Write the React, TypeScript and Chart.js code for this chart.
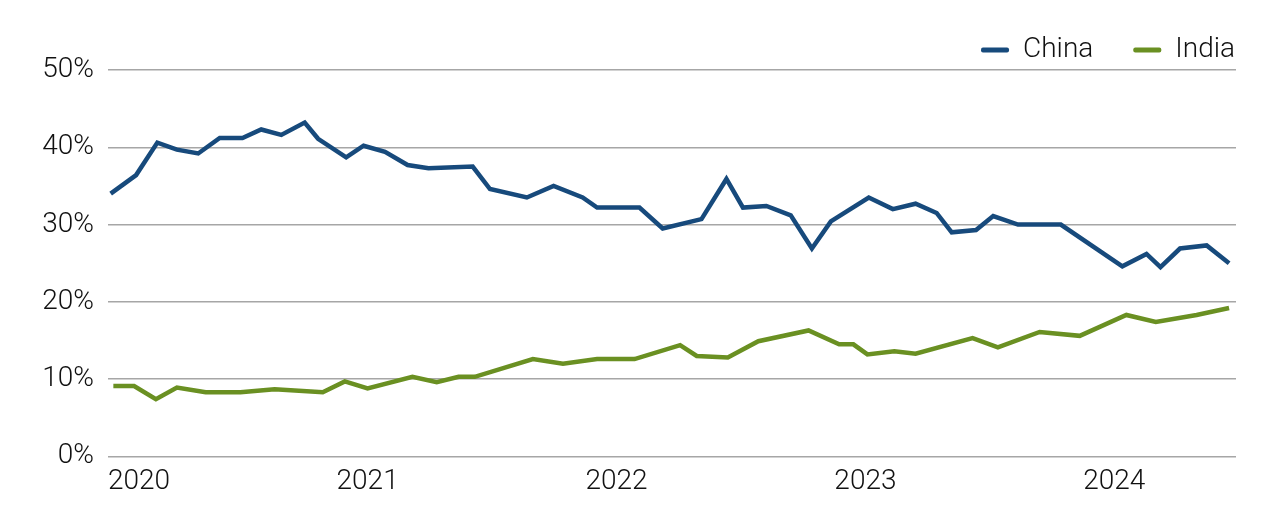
import React, { useEffect, useRef } from "react";
import { Chart, registerables } from "chart.js";

Chart.register(...registerables);

const FONT = "Roboto, 'DejaVu Sans Condensed', sans-serif";
const FONT_SIZE = 28;
const FONT_WEIGHT = 300;

const chinaDates = [
  "2019-12-20", "2020-01-27", "2020-02-26", "2020-03-26", "2020-04-26", "2020-05-28",
  "2020-06-30", "2020-07-28", "2020-08-27", "2020-09-30", "2020-10-20", "2020-11-30",
  "2020-12-26", "2021-01-27", "2021-02-27", "2021-03-30", "2021-06-03", "2021-06-28",
  "2021-08-22", "2021-09-30", "2021-11-12", "2021-12-03", "2022-02-04", "2022-03-08",
  "2022-05-04", "2022-06-10", "2022-07-04", "2022-08-08", "2022-09-13", "2022-10-14",
  "2022-11-11", "2023-01-06", "2023-02-10", "2023-03-14", "2023-04-14", "2023-05-06",
  "2023-06-11", "2023-07-06", "2023-08-12", "2023-10-14", "2024-01-13", "2024-02-17",
  "2024-03-08", "2024-04-06", "2024-05-15", "2024-06-17",
];
const chinaValues = [
  34.0, 36.4, 40.6, 39.7, 39.2, 41.2,
  41.2, 42.3, 41.6, 43.2, 41.1, 38.7,
  40.2, 39.4, 37.7, 37.3, 37.5, 34.6,
  33.5, 35.0, 33.5, 32.2, 32.2, 29.5,
  30.7, 35.9, 32.2, 32.4, 31.2, 26.9,
  30.4, 33.5, 32.0, 32.7, 31.5, 29.0,
  29.3, 31.1, 30.0, 30.0, 24.6, 26.2,
  24.5, 26.9, 27.3, 25.0,
];

const indiaDates = [
  "2019-12-24", "2020-01-24", "2020-02-24", "2020-03-26", "2020-05-07", "2020-06-27",
  "2020-08-17", "2020-10-27", "2020-11-28", "2021-01-01", "2021-03-06", "2021-04-11",
  "2021-05-13", "2021-06-06", "2021-08-31", "2021-10-14", "2021-12-03", "2022-01-28",
  "2022-04-03", "2022-04-27", "2022-06-12", "2022-07-27", "2022-10-09", "2022-11-23",
  "2022-12-14", "2023-01-04", "2023-02-12", "2023-03-14", "2023-06-06", "2023-07-13",
  "2023-09-13", "2023-11-11", "2024-01-19", "2024-03-01", "2024-04-30", "2024-06-17",
];
const indiaValues = [
  9.1, 9.1, 7.4, 8.9, 8.3, 8.3,
  8.7, 8.3, 9.7, 8.8, 10.3, 9.6,
  10.3, 10.3, 12.6, 12.0, 12.6, 12.6,
  14.4, 13.0, 12.8, 14.9, 16.3, 14.5,
  14.5, 13.2, 13.6, 13.3, 15.3, 14.1,
  16.1, 15.6, 18.3, 17.4, 18.3, 19.2,
];

const yearLabels = ["2020", "2021", "2022", "2023", "2024"];
const yTicks = [0, 10, 20, 30, 40, 50];

const X_START = "2019-12-16";
const X_END = "2024-06-27";

function toMonths(d: string): number {
  const [y, m, day] = d.split("-").map(Number);
  const dim = new Date(y, m, 0).getDate();
  return (y - 2020) * 12 + (m - 1) + (day - 1) / dim;
}

const CHINA_COLOR = "#174A7C";
const INDIA_COLOR = "#6A9022";

export default function App() {
  const ref = useRef<HTMLCanvasElement | null>(null);

  useEffect(() => {
    if (!ref.current) return;
    const xMin = toMonths(X_START);
    const xMax = toMonths(X_END);
    const tickValues = [xMin, ...yearLabels.slice(1).map((y) => toMonths(`${y}-01-01`)), xMax];
    const tickTexts = [...yearLabels, ""];
    const legendPadding = 40;
    const font = { family: FONT, size: FONT_SIZE, weight: FONT_WEIGHT as any };

    const shiftLegend = {
      id: "shiftLegend",
      afterLayout(chart: any) {
        const lg = chart.legend;
        if (!lg) return;
        const dx = legendPadding - 1;
        lg.left += dx;
        lg.right += dx;
        lg.top -= 12;
      },
    };

    const chart = new Chart(ref.current, {
      type: "line",
      data: {
        datasets: [
          {
            label: "China",
            data: chinaDates.map((d, i) => ({ x: toMonths(d), y: chinaValues[i] })),
            borderColor: CHINA_COLOR,
            backgroundColor: CHINA_COLOR,
            borderWidth: 4.5,
            pointRadius: 0,
            tension: 0,
          },
          {
            label: "India",
            data: indiaDates.map((d, i) => ({ x: toMonths(d), y: indiaValues[i] })),
            borderColor: INDIA_COLOR,
            backgroundColor: INDIA_COLOR,
            borderWidth: 4.5,
            pointRadius: 0,
            tension: 0,
          },
        ],
      },
      options: {
        animation: false,
        responsive: true,
        maintainAspectRatio: false,
        layout: { padding: { top: 0, right: 36, bottom: 16, left: 0 } },
        plugins: {
          tooltip: { enabled: false },
          legend: {
            position: "top",
            align: "end",
            maxHeight: 62,
            labels: {
              font,
              color: "#111",
              boxWidth: 28,
              boxHeight: 5,
              padding: legendPadding,
              generateLabels: (c: any) =>
                c.data.datasets.map((ds: any, i: number) => ({
                  text: ds.label,
                  fillStyle: ds.borderColor,
                  strokeStyle: ds.borderColor,
                  lineWidth: 0,
                  hidden: false,
                  datasetIndex: i,
                  borderRadius: 2,
                  fontColor: "#111",
                })),
            },
          },
        },
        scales: {
          x: {
            type: "linear",
            min: xMin,
            max: xMax,
            grid: { display: false, drawTicks: false },
            border: { display: false },
            afterBuildTicks: (scale: any) => {
              scale.ticks = tickValues.map((v) => ({ value: v }));
            },
            ticks: {
              autoSkip: false,
              maxRotation: 0,
              align: "inner",
              padding: 9,
              color: "#111",
              font,
              callback: (_v: any, i: number) => tickTexts[i],
            },
          },
          y: {
            min: 0,
            max: 50,
            afterBuildTicks: (scale: any) => {
              scale.ticks = yTicks.map((v) => ({ value: v }));
            },
            afterFit: (scale: any) => {
              scale.width = 100;
            },
            grid: { color: "#a6a6a6", lineWidth: 1.5, drawTicks: false },
            border: { display: false },
            ticks: {
              padding: 14,
              color: "#111",
              font,
              callback: (v: any) => `${v}%`,
            },
          },
        },
      },
      plugins: [shiftLegend],
    } as any);

    return () => chart.destroy();
  }, []);

  return (
    <div style={{ width: 1264, height: 516, position: "relative" }}>
      <canvas ref={ref} />
    </div>
  );
}
